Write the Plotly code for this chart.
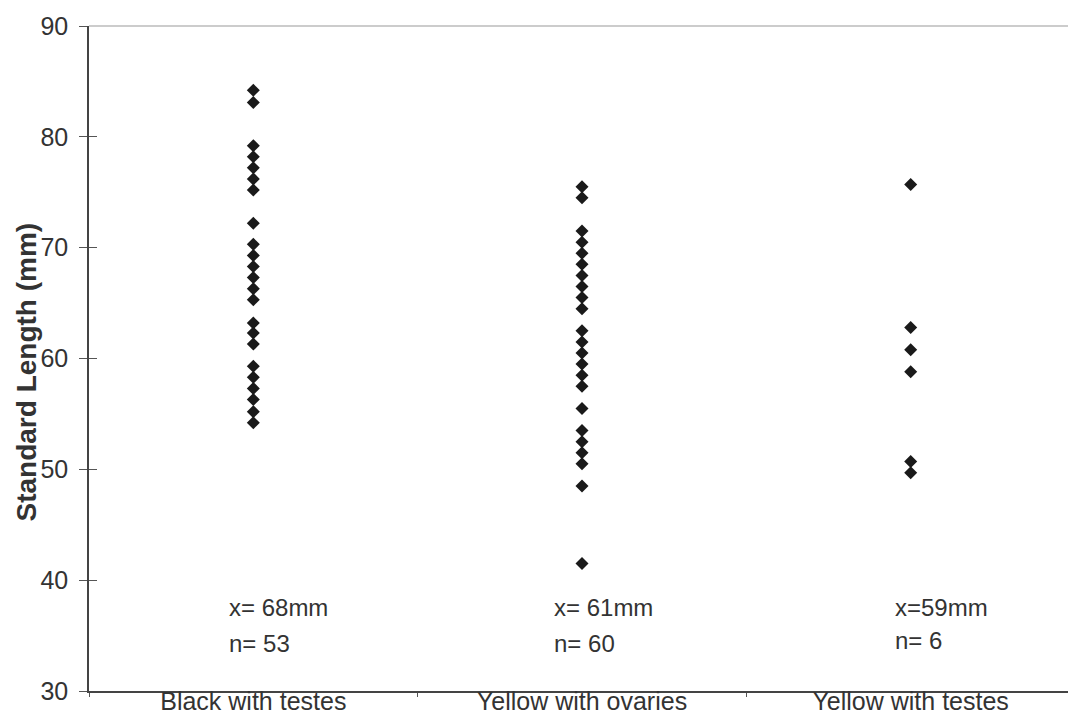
import plotly.graph_objects as go

categories = ["Black with testes", "Yellow with ovaries", "Yellow with testes"]

black_testes = [84.2, 83.1, 79.2, 78.2, 77.2, 76.2, 75.2, 72.2, 70.3, 69.3, 68.3, 67.3,
                66.3, 65.3, 63.2, 62.3, 61.3, 59.3, 58.3, 57.3, 56.3, 55.2, 54.2]
yellow_ovaries = [75.5, 74.5, 71.5, 70.5, 69.5, 68.5, 67.5, 66.5, 65.5, 64.5, 62.5, 61.5,
                  60.5, 59.5, 58.5, 57.5, 55.5, 53.5, 52.5, 51.5, 50.5, 48.5, 41.5]
yellow_testes = [75.7, 62.8, 60.8, 58.8, 50.7, 49.7]

mean_labels = ["x= 68mm", "x= 61mm", "x=59mm"]
count_labels = ["n= 53", "n= 60", "n= 6"]

y_ticks = [30, 40, 50, 60, 70, 80, 90]
y_title = "Standard Length (mm)"

series = [black_testes, yellow_ovaries, yellow_testes]

FONT = "Liberation Sans, Arial, sans-serif"
TXT = "#333333"

fig = go.Figure()
for cat, vals in zip(categories, series):
    fig.add_trace(go.Scatter(
        x=[cat] * len(vals), y=vals, mode="markers",
        marker=dict(symbol="diamond", size=10, color="#1a1a1a"),
        showlegend=False, hoverinfo="y"))

xshifts = [-26, -30, -18]
for i, cat in enumerate(categories):
    fig.add_annotation(x=cat, y=37.5, text=mean_labels[i], showarrow=False,
                       xanchor="left", xshift=xshifts[i],
                       font=dict(family=FONT, size=24, color=TXT))
    fig.add_annotation(x=cat, y=34.3 if i < 2 else 34.6, text=count_labels[i],
                       showarrow=False, xanchor="left", xshift=xshifts[i],
                       font=dict(family=FONT, size=24, color=TXT))

# y-axis title placed close to the axis (it overlaps the tick labels in the original)
fig.add_annotation(xref="paper", yref="paper", x=0, y=0.5, xshift=-63, yshift=-14,
                   text="<b>" + y_title + "</b>", textangle=-90, showarrow=False,
                   xanchor="center", yanchor="middle",
                   font=dict(family=FONT, size=28, color=TXT))

# light top/right border of the plot area
fig.add_shape(type="line", xref="paper", yref="paper", x0=0, x1=1, y0=1, y1=1,
              line=dict(color="#9a9a9a", width=1.2))
fig.add_shape(type="line", xref="paper", yref="paper", x0=1, x1=1, y0=0, y1=1,
              line=dict(color="#9a9a9a", width=1))

fig.update_layout(
    width=1068, height=707,
    margin=dict(l=81, r=1, t=18, b=24),
    paper_bgcolor="white", plot_bgcolor="white",
    font=dict(family=FONT, color=TXT),
    xaxis=dict(
        type="category", categoryorder="array", categoryarray=categories,
        range=[-0.5, 2.5], showgrid=False, zeroline=False,
        showline=True, linecolor="#444", linewidth=1.5,
        ticks="outside", ticklen=4, tickcolor="#555", tickson="boundaries",
        ticklabelstandoff=-13,
        tickfont=dict(size=25, color=TXT), automargin=False),
    yaxis=dict(
        range=[30, 90], tickvals=y_ticks, showgrid=False, zeroline=False,
        showline=True, linecolor="#444", linewidth=1.5,
        ticks="outside", ticklen=8, tickcolor="#555", ticklabelstandoff=6,
        tickfont=dict(size=25, color=TXT), automargin=False),
    yaxis2=dict(
        overlaying="y", matches="y", side="left", range=[30, 90], tickvals=y_ticks,
        showgrid=False, zeroline=False, showline=False, showticklabels=False,
        ticks="inside", ticklen=8, tickcolor="#555"),
)
# invisible trace to activate the second (inside-tick) y axis
fig.add_trace(go.Scatter(x=[categories[0]], y=[None], yaxis="y2", showlegend=False,
                         hoverinfo="skip", mode="markers"))

fig.write_html("out.html")
